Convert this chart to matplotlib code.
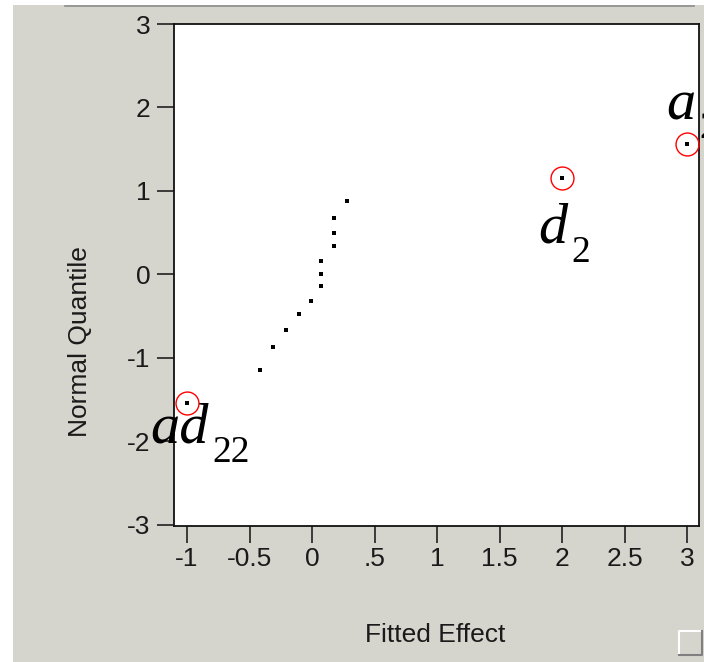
import matplotlib
matplotlib.use("Agg")
import matplotlib.pyplot as plt
from matplotlib.patches import Rectangle
from matplotlib.lines import Line2D

# ---- data ----
fitted_effect = [-1.0, -0.416, -0.31, -0.21, -0.104, -0.008, 0.072, 0.072, 0.072,
                 0.178, 0.178, 0.178, 0.278, 2.0, 3.0]
normal_quantile = [-1.54, -1.14, -0.87, -0.67, -0.48, -0.32, -0.14, 0.0, 0.16,
                   0.34, 0.49, 0.67, 0.88, 1.16, 1.56]
highlight_x = [-1.0, 2.0, 3.0]
highlight_y = [-1.54, 1.16, 1.56]
highlight_main = ["ad", "d", "a"]
highlight_sub = ["22", "2", "2"]
xtick_values = [-1, -0.5, 0, 0.5, 1, 1.5, 2, 2.5, 3]
xtick_labels = ["-1", "-0.5", "0", ".5", "1", "1.5", "2", "2.5", "3"]
ytick_values = [-3, -2, -1, 0, 1, 2, 3]
ytick_labels = ["-3", "-2", "-1", "0", "1", "2", "3"]

plt.rcParams['font.family'] = ['Liberation Sans', 'DejaVu Sans']

BG = '#d5d4cd'
W, H = 704, 662
fig = plt.figure(figsize=(W / 100, H / 100), dpi=100, facecolor=BG)

# window chrome
fig.patches.append(Rectangle((0, 0), 13 / W, 1, transform=fig.transFigure,
                             facecolor='white', edgecolor='none', zorder=0))
fig.patches.append(Rectangle((0, 1 - 5 / H), 1, 5 / H, transform=fig.transFigure,
                             facecolor='white', edgecolor='none', zorder=0))
fig.lines.append(Line2D([65 / W, 694 / W], [1 - 5.5 / H, 1 - 5.5 / H],
                        transform=fig.transFigure, color='#8c8c8c', lw=1.2))
# small box bottom-right
bx0, bx1, by0, by1 = 679 / W, 702 / W, 1 - 655 / H, 1 - 631 / H
fig.patches.append(Rectangle((bx0, by0), bx1 - bx0, by1 - by0, transform=fig.transFigure,
                             facecolor=BG, edgecolor='none'))
fig.lines.append(Line2D([bx0, bx0, bx1], [by0, by1, by1], transform=fig.transFigure,
                        color='white', lw=1.5))
fig.lines.append(Line2D([bx0, bx1, bx1], [by0, by0, by1], transform=fig.transFigure,
                        color='#808080', lw=1.5))

ax = fig.add_axes([174 / W, 1 - 526 / H, 525 / W, 502 / H])
ax.set_facecolor('white')
ax.set_xlim(-1.104, 3.096)
ax.set_ylim(-3.015, 3.0)

for s in ax.spines.values():
    s.set_linewidth(1.3)
    s.set_color('#111111')

ax.set_xticks(xtick_values)
ax.set_xticklabels(xtick_labels)
ax.set_yticks(ytick_values)
ax.set_yticklabels(ytick_labels)
ax.tick_params(axis='both', direction='out', length=12, width=1.1, color='#111111',
               labelsize=19, labelcolor='#1a1a1a')
ax.tick_params(axis='x', pad=3)
ax.tick_params(axis='y', pad=5)

ax.plot(fitted_effect, normal_quantile, linestyle='none', marker='s', ms=3,
        mew=0, color='black', zorder=3)
ax.plot(highlight_x, highlight_y, linestyle='none', marker='o', ms=16.5,
        mfc='none', mec='red', mew=1.0, clip_on=False, zorder=4)

offsets = [(-37, -40), (-24, -65), (-21, 25)]
serif_it = dict(family='Liberation Serif', style='italic')
renderer = fig.canvas.get_renderer()
for x, y, main, sub, off in zip(highlight_x, highlight_y, highlight_main,
                                highlight_sub, offsets):
    t = ax.annotate(main, (x, y), xytext=off, textcoords='offset pixels',
                    ha='left', va='baseline', fontsize=42, color='black',
                    annotation_clip=False, zorder=5, **serif_it)
    ext = t.get_window_extent(renderer)
    px, py = ax.transData.transform((x, y))
    sub_dx = ext.x1 - px + 4
    sub_dy = off[1] - 19
    ax.annotate(sub, (x, y), xytext=(sub_dx, sub_dy), textcoords='offset pixels',
                ha='left', va='baseline', fontsize=27, color='black',
                family='Liberation Serif', annotation_clip=False, zorder=5)

fig.text(80 / W, 1 - 342 / H, 'Normal Quantile', rotation=90, ha='center',
         va='center', fontsize=19, color='#1a1a1a')
fig.text(435 / W, 1 - 635 / H, 'Fitted Effect', ha='center', va='center',
         fontsize=19, color='#1a1a1a')

fig.savefig('out.png', dpi=100, facecolor=BG)
